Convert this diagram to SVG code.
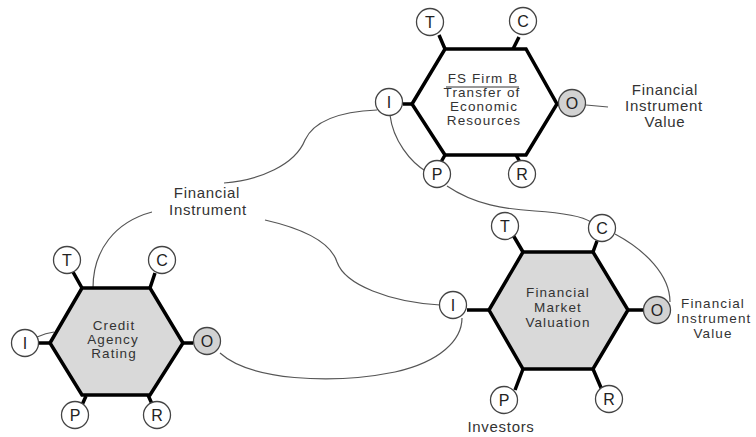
<svg xmlns="http://www.w3.org/2000/svg" width="756" height="437" viewBox="0 0 756 437">
<style>
.hex{stroke:#000;stroke-width:3.5;stroke-linejoin:miter}
.tick{stroke:#000;stroke-width:3.5;fill:none}
.port{fill:#fff;stroke:#444;stroke-width:1.3}
.out{fill:#d2d2d2;stroke:#444;stroke-width:1.3}
.pl{font-family:"Liberation Sans",Arial,sans-serif;font-size:16px;text-anchor:middle;fill:#222}
.t{font-family:"Liberation Sans",Arial,sans-serif;font-size:15px;letter-spacing:0.7px;text-anchor:middle;fill:#333}
.h{font-family:"Liberation Sans",Arial,sans-serif;font-size:13.5px;letter-spacing:1.1px;text-anchor:middle;fill:#333}
.c{fill:none;stroke:#555;stroke-width:1.2}
</style>
<rect width="756" height="437" fill="#fff"/>
<g id="connectors">
<path class="c" d="M377 110 C330 112,312 125,305 140 C295 165,260 180,224 183"/>
<path class="c" d="M265 220 C300 228,330 240,337 262 C345 285,390 302,440 305"/>
<path class="c" d="M152 212 C115 222,93 250,93 288"/>
<path class="c" d="M390 115 C393 140,410 162,427 172"/>
<path class="c" d="M447 186 C475 205,505 209,535 211 C565 213,582 216,591 222"/>
<path class="c" d="M615 234 C645 250,670 275,670 302"/>
<path class="c" d="M220 353 C250 380,330 385,395 372 C440 362,462 340,462 318"/>
<path class="c" d="M37 337 Q46 333,54 332"/>
<path class="c" d="M586 105 L608 107"/>
</g>
<g id="node-fs-firm-b">
<polygon class="hex" fill="#fff" points="412,104 445,49 526,49 557,104 526,155 445,155"/>
<path class="tick" d="M439 35 L445 49 M519 37 L513 49 M403 104 L412 104 M557 104 L561 104 M445 155 L441 162 M516 155 L520 162"/>
<circle class="port" cx="430" cy="22" r="13.5"/><text class="pl" x="430" y="28">T</text>
<circle class="port" cx="523" cy="21" r="13.5"/><text class="pl" x="523" y="27">C</text>
<circle class="port" cx="389" cy="102" r="13.5"/><text class="pl" x="389" y="108">I</text>
<circle class="out" cx="572" cy="103" r="13.5"/><text class="pl" x="572" y="109">O</text>
<circle class="port" cx="437" cy="174" r="13.5"/><text class="pl" x="437" y="180">P</text>
<circle class="port" cx="522" cy="174" r="13.5"/><text class="pl" x="522" y="180">R</text>
<text class="h"><tspan x="483" y="83">FS Firm B</tspan><tspan x="482" y="97">Transfer of</tspan><tspan x="484" y="111">Economic</tspan><tspan x="484" y="125">Resources</tspan></text>
<line x1="446" y1="87" x2="519" y2="87" stroke="#333" stroke-width="1.2"/>
</g>
<g id="node-credit-agency">
<polygon class="hex" fill="#d9d9d9" points="50,343 82,288 150,288 183,343 150,395 82,395"/>
<path class="tick" d="M73 272 L82 288 M155 273 L150 288 M38 343 L50 343 M183 343 L193 343 M86 396 L82 405 M148 395 L152 404"/>
<circle class="port" cx="67" cy="260" r="13.5"/><text class="pl" x="67" y="266">T</text>
<circle class="port" cx="162" cy="260" r="13.5"/><text class="pl" x="162" y="266">C</text>
<circle class="port" cx="25" cy="343" r="13.5"/><text class="pl" x="25" y="349">I</text>
<circle class="out" cx="207" cy="341" r="13.5"/><text class="pl" x="207" y="347">O</text>
<circle class="port" cx="75" cy="415" r="13.5"/><text class="pl" x="75" y="421">P</text>
<circle class="port" cx="157" cy="415" r="13.5"/><text class="pl" x="157" y="421">R</text>
<text class="h"><tspan x="114" y="330">Credit</tspan><tspan x="113" y="344">Agency</tspan><tspan x="114" y="358">Rating</tspan></text>
</g>
<g id="node-market-valuation">
<polygon class="hex" fill="#d9d9d9" points="489,310 523,252 593,252 628,310 593,369 523,369"/>
<path class="tick" d="M513 235 L523 252 M597 241 L593 252 M467 310 L489 310 M628 310 L645 310 M523 369 L515 390 M593 369 L602 390"/>
<circle class="port" cx="505" cy="226" r="13.5"/><text class="pl" x="505" y="232">T</text>
<circle class="port" cx="602" cy="228" r="13.5"/><text class="pl" x="602" y="234">C</text>
<circle class="port" cx="453" cy="305" r="13.5"/><text class="pl" x="453" y="311">I</text>
<circle class="out" cx="657" cy="310" r="13.5"/><text class="pl" x="657" y="316">O</text>
<circle class="port" cx="504" cy="400" r="13.5"/><text class="pl" x="504" y="406">P</text>
<circle class="port" cx="609" cy="399" r="13.5"/><text class="pl" x="609" y="405">R</text>
<text class="h"><tspan x="558" y="297">Financial</tspan><tspan x="558" y="312">Market</tspan><tspan x="558" y="327">Valuation</tspan></text>
</g>
<g id="labels">
<text class="t"><tspan x="207" y="198">Financial</tspan><tspan x="208" y="215">Instrument</tspan></text>
<text class="t"><tspan x="665" y="95">Financial</tspan><tspan x="664" y="111">Instrument</tspan><tspan x="665" y="127">Value</tspan></text>
<text class="h"><tspan x="713" y="308">Financial</tspan><tspan x="714" y="323">Instrument</tspan><tspan x="713" y="338">Value</tspan></text>
<text class="t" x="501" y="432">Investors</text>
</g>
</svg>
